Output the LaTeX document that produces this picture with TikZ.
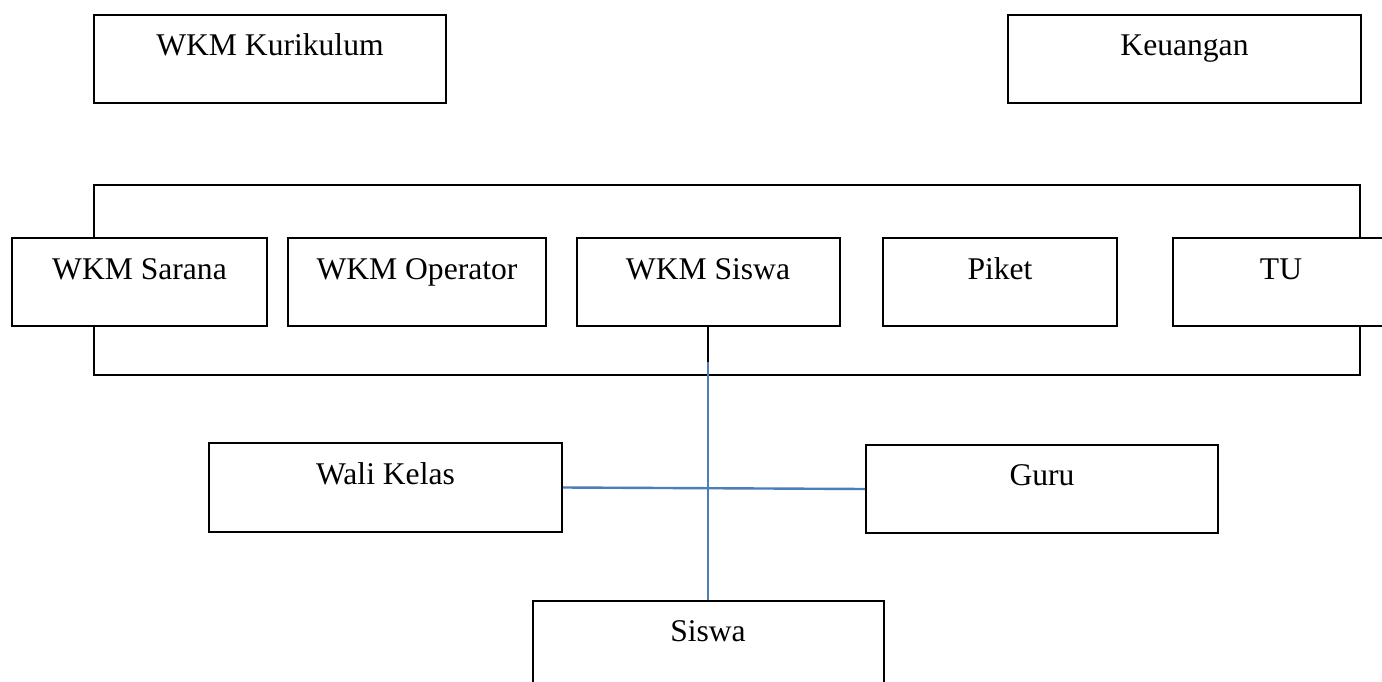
\documentclass[tikz,border=0pt]{standalone}
\usepackage{fontspec}
\setmainfont{Liberation Serif}
\usetikzlibrary{calc}
\definecolor{linkblue}{RGB}{74,126,187}
\tikzset{
  box/.style={draw=black, line width=2pt, fill=white, inner sep=0pt,
    font=\fontsize{31.6}{38}\selectfont, anchor=north},
  bracket/.style={draw=black, line width=2pt},
  blackline/.style={draw=black, line width=2.2pt},
  blueline/.style={draw=linkblue, line width=2.4pt},
}
\begin{document}
\begin{tikzpicture}[x=1pt,y=-1pt]
\useasboundingbox (0,0) rectangle (1382,682);
\clip (0,0) rectangle (1382,682);
\fill[white] (0,0) rectangle (1382,682);
% top boxes
\node[box, minimum width=352pt, text height=41pt, text depth=47pt] (kur) at (270,14) {WKM Kurikulum};
\node[box, minimum width=353pt, text height=41pt, text depth=47pt] (keu) at (1184.5,14) {Keuangan};
% bracket frame
\draw[bracket] (94,185) rectangle (1360,375);
% row boxes
\node[box, minimum width=255pt, text height=41pt, text depth=47pt] (sarana) at (139.5,237) {WKM Sarana};
\node[box, minimum width=258pt, text height=41pt, text depth=47pt] (operator) at (417,237) {WKM Operator};
\node[box, minimum width=263pt, text height=41pt, text depth=47pt] (wsiswa) at (708,237) {WKM Siswa};
\node[box, minimum width=234pt, text height=41pt, text depth=47pt] (piket) at (1000,237) {Piket};
\node[box, minimum width=216pt, text height=41pt, text depth=47pt] (tu) at (1281,237) {TU};
% lower boxes
\node[box, minimum width=353pt, text height=41pt, text depth=48pt] (wali) at (385.5,442) {Wali Kelas};
\node[box, minimum width=352pt, text height=40pt, text depth=48pt] (guru) at (1042,444) {Guru};
\node[box, minimum width=351pt, text height=40pt, text depth=80pt] (siswa) at (708,600) {Siswa};
% connectors
\coordinate (j) at (708,362);
\draw[blackline] (wsiswa.south) -- (j);
\draw[blueline] (j) -- (siswa.north);
\draw[blueline] (wali.east) -- (guru.west);
\end{tikzpicture}
\end{document}
